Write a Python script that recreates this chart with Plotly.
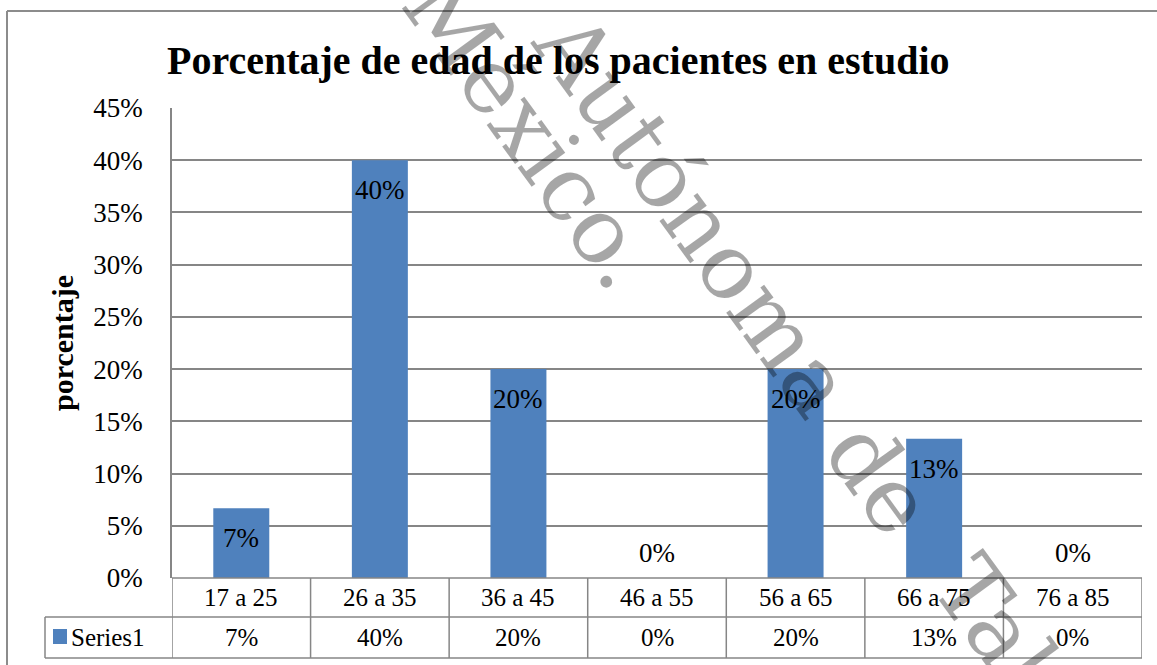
import plotly.graph_objects as go

# ---- data ----
categories = ["17 a 25", "26 a 35", "36 a 45", "46 a 55", "56 a 65", "66 a 75", "76 a 85"]
values = [0.0667, 0.40, 0.20, 0.0, 0.20, 0.1333, 0.0]
series_name = "Series1"
title_text = "Porcentaje de edad de los pacientes en estudio"
y_title = "porcentaje"
y_ticks = [0, 0.05, 0.10, 0.15, 0.20, 0.25, 0.30, 0.35, 0.40, 0.45]

labels = [f"{round(v * 100):d}%" for v in values]

W, H = 1157, 665
def px(x):
    return x / W
def py(y):
    return 1 - y / H

FONT = "Liberation Serif"
GRID = "#868686"
BAR = "#4f81bd"

fig = go.Figure()
fig.add_trace(go.Bar(x=categories, y=values, marker=dict(color=BAR, line=dict(width=0)),
                     name=series_name, hoverinfo="skip"))

annotations = []
shapes = []

# data labels
for c, v, t in zip(categories, values, labels):
    annotations.append(dict(x=c, y=v, xref="x", yref="y", text=t, showarrow=False,
                            xanchor="center", yanchor="middle",
                            yshift=(-30 if v > 0 else 25),
                            font=dict(family=FONT, size=27, color="black")))

# title
annotations.append(dict(x=px(558), y=py(60), xref="paper", yref="paper", text=f"<b>{title_text}</b>",
                        showarrow=False, xanchor="center", yanchor="middle",
                        font=dict(family=FONT, size=40, color="black")))
# y-axis title
annotations.append(dict(x=px(62), y=py(343), xref="paper", yref="paper", text=f"<b>{y_title}</b>",
                        showarrow=False, xanchor="center", yanchor="middle", textangle=-90,
                        font=dict(family=FONT, size=30, color="black")))

# data table
row1_top, row_mid, row2_bot = 578, 617, 658
table_left = 45
for i in range(len(categories) + 1):
    shapes.append(dict(type="line", xref="x", yref="paper", x0=i - 0.5, x1=i - 0.5,
                       y0=py(row1_top), y1=py(row2_bot), line=dict(color=GRID, width=1.5)))
shapes.append(dict(type="line", xref="paper", yref="paper", x0=px(table_left), x1=px(table_left),
                   y0=py(row_mid), y1=py(row2_bot), line=dict(color=GRID, width=1.5)))
shapes.append(dict(type="line", xref="x", yref="paper", x0=-0.5, x1=len(categories) - 0.5,
                   y0=py(row1_top), y1=py(row1_top), line=dict(color=GRID, width=1.5)))
for yy in (row_mid, row2_bot):
    shapes.append(dict(type="line", xref="paper", yref="paper",
                       x0=px(table_left), x1=px(1142), y0=py(yy), y1=py(yy),
                       line=dict(color=GRID, width=1.5)))
for c, t in zip(categories, labels):
    annotations.append(dict(x=c, y=py((row1_top + row_mid) / 2), xref="x", yref="paper", text=c,
                            showarrow=False, xanchor="center", yanchor="middle",
                            font=dict(family=FONT, size=25, color="black")))
    annotations.append(dict(x=c, y=py((row_mid + row2_bot) / 2), xref="x", yref="paper", text=t,
                            showarrow=False, xanchor="center", yanchor="middle",
                            font=dict(family=FONT, size=25, color="black")))
# legend key in table
shapes.append(dict(type="rect", xref="paper", yref="paper", x0=px(53), x1=px(67),
                   y0=py(644), y1=py(629), fillcolor=BAR, line=dict(width=0)))
annotations.append(dict(x=px(69), y=py(637.5), xref="paper", yref="paper", text=series_name,
                        showarrow=False, xanchor="left", yanchor="middle",
                        font=dict(family=FONT, size=25, color="black")))

# chart border (left and top)
shapes.append(dict(type="line", xref="paper", yref="paper", x0=px(7), x1=px(7), y0=py(11), y1=py(700),
                   line=dict(color="#8c8c8c", width=2)))
shapes.append(dict(type="line", xref="paper", yref="paper", x0=px(7), x1=px(1200), y0=py(11), y1=py(11),
                   line=dict(color="#8c8c8c", width=2)))

# watermark
WM = dict(family="DejaVu Serif", size=91, color="rgba(0,0,0,0.35)")
for word, (cx, cy) in [("México.", (530, 132)), ("Autónoma", (694, 214)),
                       ("de", (880, 478)), ("Tabasco", (1064, 718))]:
    annotations.append(dict(x=px(cx), y=py(cy), xref="paper", yref="paper", text=word,
                            showarrow=False, xanchor="center", yanchor="middle", textangle=54,
                            font=WM))

fig.update_layout(
    width=W, height=H,
    margin=dict(l=0, r=0, t=0, b=0, pad=0, autoexpand=False),
    paper_bgcolor="white", plot_bgcolor="white",
    showlegend=False,
    bargap=0.596,
    xaxis=dict(domain=[px(172), px(1142)], range=[-0.5, len(categories) - 0.5],
               showticklabels=False, showgrid=False, showline=False, zeroline=False, ticks="",
               automargin=False),
    yaxis=dict(domain=[py(578), py(108)], range=[0, 0.45], tickvals=y_ticks, tickformat=".0%",
               showgrid=True, gridcolor=GRID, gridwidth=1.5, zeroline=False,
               showline=True, linecolor=GRID, linewidth=1.5, ticks="",
               ticklabelstandoff=22, automargin=False,
               tickfont=dict(family=FONT, size=27, color="black")),
    annotations=annotations,
    shapes=shapes,
)

fig.write_html("out.html", config={"displayModeBar": False},
               post_script="document.body.style.margin='0';document.body.style.overflow='hidden';")
